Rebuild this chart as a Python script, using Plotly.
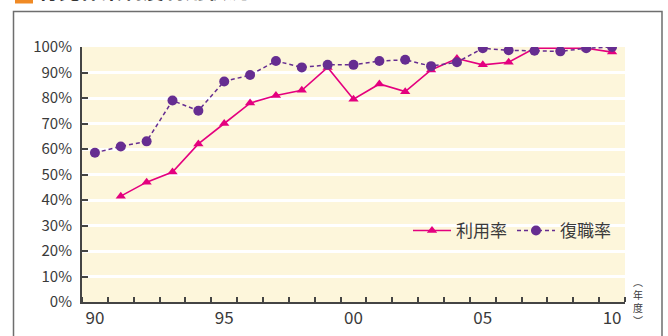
import plotly.graph_objects as go

# fiscal years 1990-2010 and the two rates (%)
years = list(range(1990, 2011))
usage_rate = [None, 41.5, 47, 51, 62, 70, 78, 81, 83, 92, 79.5,
              85.5, 82.5, 91, 95.5, 93, 94, 99.5, 99.5, 99.5, 98]
return_rate = [58.5, 61, 63, 79, 75, 86.5, 89, 94.5, 92, 93, 93,
               94.5, 95, 92.5, 94, 99.5, 98.7, 98.5, 98.3, 99.5, 100]
x_tick_vals = [1990, 1995, 2000, 2005, 2010]
x_tick_text = ["90", "95", "00", "05", "10"]
y_tick_vals = list(range(0, 101, 10))
y_tick_text = [f"{v}%" for v in y_tick_vals]
series_names = ["利用率", "復職率"]
title_text = "育児休業制度利用状況"
unit_chars = ["︵", "年", "度", "︶"]

W, H = 668, 336
L, R, T, B = 82, 43, 47, 34
PW, PH = W - L - R, H - T - B
FONT = "Noto Sans CJK JP, Noto Sans, sans-serif"
TXT = "#3a3a3a"
MAGENTA = "#e4007f"
PURPLE = "#662d91"


def px(x):
    return (x - L) / PW


def py(y):
    return (H - B - y) / PH


fig = go.Figure()
fig.add_trace(go.Scatter(
    x=years, y=usage_rate, name=series_names[0], mode="lines+markers",
    line=dict(color=MAGENTA, width=1.6),
    marker=dict(symbol="triangle-up", size=9, color=MAGENTA),
    connectgaps=False,
))
fig.add_trace(go.Scatter(
    x=years, y=return_rate, name=series_names[1], mode="lines+markers",
    line=dict(color=PURPLE, width=1.5, dash="4px,3px"),
    marker=dict(symbol="circle", size=10, color=PURPLE),
))

fig.update_layout(
    width=W, height=H,
    margin=dict(l=L, r=R, t=T, b=B, pad=0, autoexpand=False),
    paper_bgcolor="white",
    plot_bgcolor="#fdf6db",
    font=dict(family=FONT, color=TXT),
    showlegend=True,
    legend=dict(
        orientation="h", x=px(408), y=py(231), xanchor="left", yanchor="middle",
        bgcolor="rgba(0,0,0,0)", font=dict(size=17, color=TXT),
        itemwidth=38, traceorder="normal",
    ),
    xaxis=dict(
        range=[1989.5, 2010.5], tickmode="array",
        tickvals=x_tick_vals, ticktext=x_tick_text,
        ticks="", showgrid=False, zeroline=False, automargin=False,
        showline=True, linecolor="#444", linewidth=2,
        tickfont=dict(size=17, color=TXT),
        minor=dict(ticks="inside", tick0=1989.5, dtick=1, ticklen=5,
                   tickcolor="#444", tickwidth=1.5, showgrid=False),
    ),
    yaxis=dict(
        range=[0, 100], tickmode="array",
        tickvals=y_tick_vals, ticktext=y_tick_text,
        ticks="inside", ticklen=6, tickcolor="#444", tickwidth=1.5,
        showgrid=True, gridcolor="white", gridwidth=2.5, automargin=False,
        zeroline=False, showline=True, linecolor="#444", linewidth=2,
        tickfont=dict(size=15, color=TXT),
        ticklabelstandoff=5,
    ),
)

# surrounding frame of the panel
fig.add_shape(type="rect", xref="paper", yref="paper",
              x0=px(13.5), x1=px(662), y0=py(345), y1=py(11.5),
              line=dict(color="#6e6e6e", width=1.5), fillcolor="rgba(0,0,0,0)",
              layer="below")

# heading: orange square and bold caption
fig.add_shape(type="rect", xref="paper", yref="paper",
              x0=px(15), x1=px(33), y0=py(3.5), y1=py(-20),
              line=dict(width=0), fillcolor="#f08a24")
fig.add_annotation(text=f"<b>{title_text}</b>", xref="paper", yref="paper",
                   x=px(36), y=py(6), xanchor="left", yanchor="bottom",
                   showarrow=False, font=dict(size=21, color="#333", family=FONT))

# vertical unit label （年度）
fig.add_annotation(text="<br>".join(unit_chars), xref="paper", yref="paper",
                   x=px(638), y=py(301), xanchor="center", yanchor="middle",
                   showarrow=False, borderpad=0,
                   font=dict(size=10, color=TXT, family=FONT))

fig.write_html("out.html")
